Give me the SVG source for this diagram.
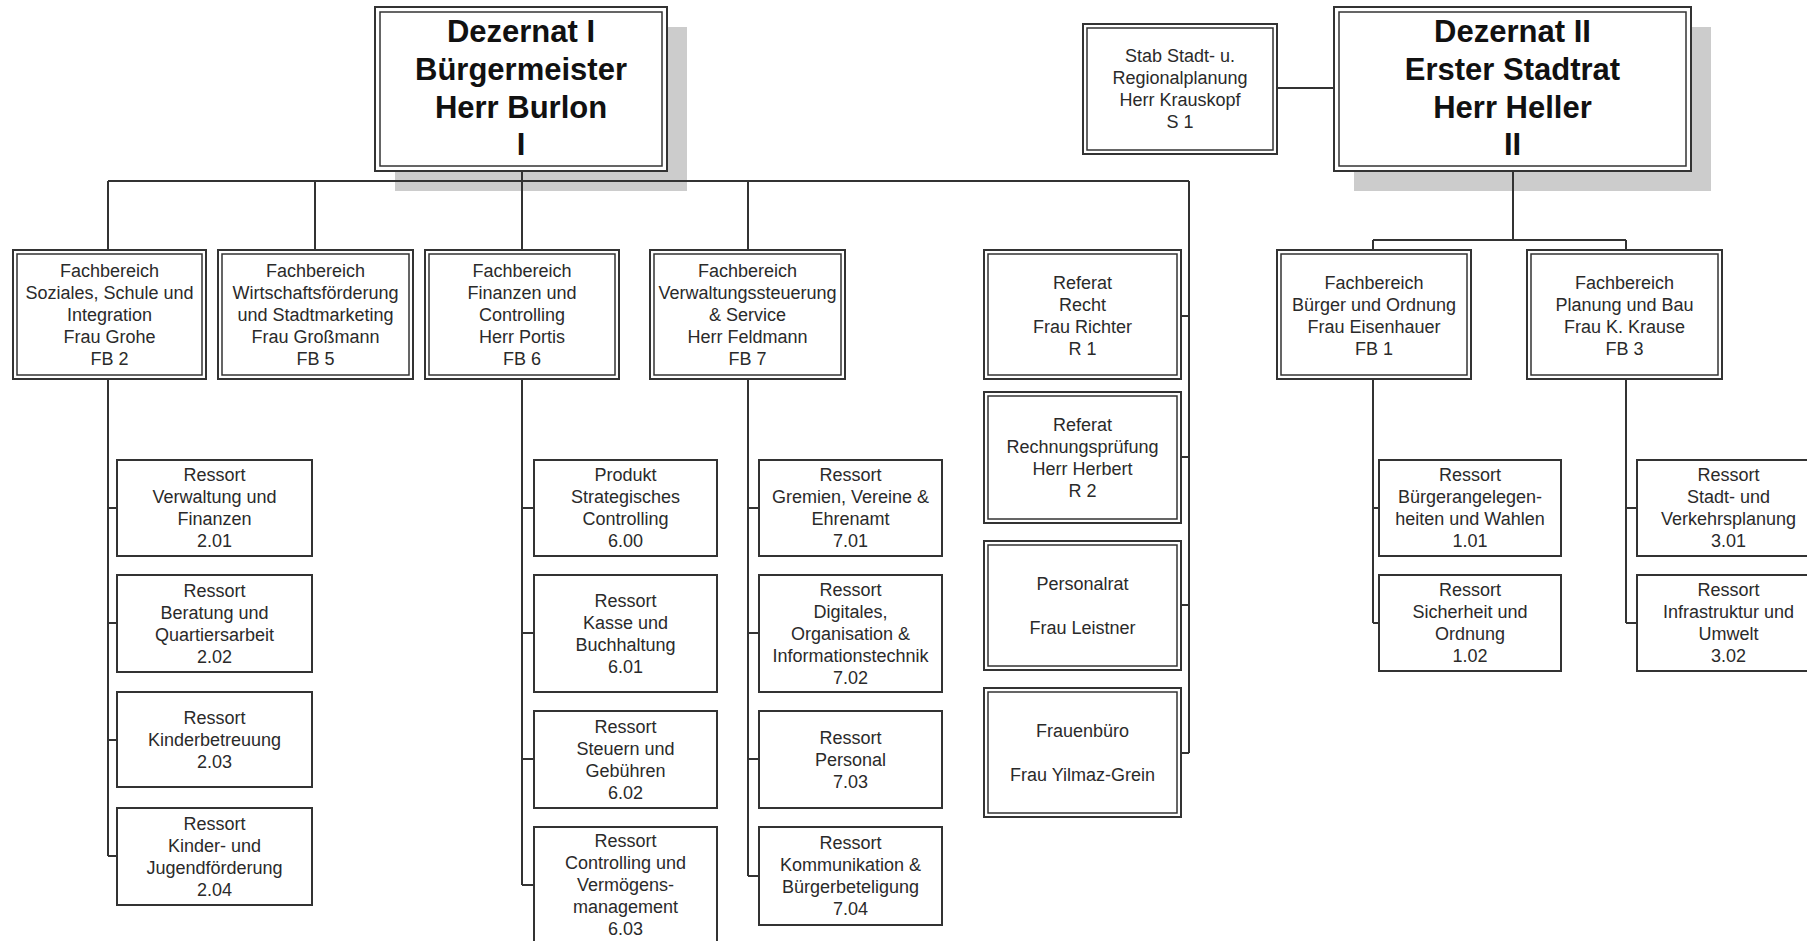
<svg xmlns="http://www.w3.org/2000/svg" width="1807" height="941" viewBox="0 0 1807 941">
<style>
.bg{fill:#ffffff}
.sh{fill:#cccccc}
.o{fill:#ffffff;stroke:#333;stroke-width:2}
.i{fill:none;stroke:#333;stroke-width:1.5}
.s{fill:#ffffff;stroke:#333;stroke-width:2}
.c{fill:none;stroke:#333;stroke-width:2}
.t{font-family:"Liberation Sans",Arial,sans-serif;font-size:18px;fill:#2a2a2a;text-anchor:middle}
.h{font-family:"Liberation Sans",Arial,sans-serif;font-size:31px;font-weight:bold;fill:#111;text-anchor:middle}
</style>
<rect class="bg" x="0" y="0" width="1807" height="941"/>
<g id="shadows">
<rect class="sh" x="395" y="27" width="292" height="164"/>
<rect class="sh" x="1354" y="27" width="357" height="164"/>
</g>
<g id="connectors">
<path class="c" d="M108,181 H1189"/>
<path class="c" d="M108,181 V250 M315,181 V250 M522,171 V250 M748,181 V250"/>
<path class="c" d="M1189,181 V753 M1181,316 H1189 M1181,457 H1189 M1181,605 H1189 M1181,753 H1189"/>
<path class="c" d="M1513,171 V240 M1373,240 H1626 M1373,240 V250 M1626,240 V250"/>
<path class="c" d="M1277,88 H1334"/>
<path class="c" d="M108,379 V856 M108,508 H117 M108,623 H117 M108,740 H117 M108,856 H117"/>
<path class="c" d="M522,379 V885 M522,508 H534 M522,633 H534 M522,759 H534 M522,885 H534"/>
<path class="c" d="M748,379 V876 M748,508 H759 M748,633 H759 M748,759 H759 M748,876 H759"/>
<path class="c" d="M1373,379 V623 M1373,508 H1379 M1373,623 H1379"/>
<path class="c" d="M1626,379 V623 M1626,508 H1637 M1626,623 H1637"/>
</g>
<g id="dez1">
<rect class="o" x="375" y="7" width="292" height="164"/><rect class="i" x="380" y="12" width="282" height="154"/>
<text class="h"><tspan x="521" y="42">Dezernat I</tspan><tspan x="521" y="80">Bürgermeister</tspan><tspan x="521" y="118">Herr Burlon</tspan><tspan x="521" y="155">I</tspan></text>
</g>
<g id="stab">
<rect class="o" x="1083" y="24" width="194" height="130"/><rect class="i" x="1087" y="28" width="186" height="122"/>
<text class="t"><tspan x="1180" y="62">Stab Stadt- u.</tspan><tspan x="1180" y="84">Regionalplanung</tspan><tspan x="1180" y="106">Herr Krauskopf</tspan><tspan x="1180" y="128">S 1</tspan></text>
</g>
<g id="dez2">
<rect class="o" x="1334" y="7" width="357" height="164"/><rect class="i" x="1339" y="12" width="347" height="154"/>
<text class="h"><tspan x="1512.5" y="42">Dezernat II</tspan><tspan x="1512.5" y="80">Erster Stadtrat</tspan><tspan x="1512.5" y="118">Herr Heller</tspan><tspan x="1512.5" y="155">II</tspan></text>
</g>
<g id="fb2">
<rect class="o" x="13" y="250" width="193" height="129"/><rect class="i" x="17" y="254" width="185" height="121"/>
<text class="t"><tspan x="109.5" y="276.5">Fachbereich</tspan><tspan x="109.5" y="298.5">Soziales, Schule und</tspan><tspan x="109.5" y="320.5">Integration</tspan><tspan x="109.5" y="342.5">Frau Grohe</tspan><tspan x="109.5" y="364.5">FB 2</tspan></text>
</g>
<g id="fb5">
<rect class="o" x="218" y="250" width="195" height="129"/><rect class="i" x="222" y="254" width="187" height="121"/>
<text class="t"><tspan x="315.5" y="276.5">Fachbereich</tspan><tspan x="315.5" y="298.5">Wirtschaftsförderung</tspan><tspan x="315.5" y="320.5">und Stadtmarketing</tspan><tspan x="315.5" y="342.5">Frau Großmann</tspan><tspan x="315.5" y="364.5">FB 5</tspan></text>
</g>
<g id="fb6">
<rect class="o" x="425" y="250" width="194" height="129"/><rect class="i" x="429" y="254" width="186" height="121"/>
<text class="t"><tspan x="522" y="276.5">Fachbereich</tspan><tspan x="522" y="298.5">Finanzen und</tspan><tspan x="522" y="320.5">Controlling</tspan><tspan x="522" y="342.5">Herr Portis</tspan><tspan x="522" y="364.5">FB 6</tspan></text>
</g>
<g id="fb7">
<rect class="o" x="650" y="250" width="195" height="129"/><rect class="i" x="654" y="254" width="187" height="121"/>
<text class="t"><tspan x="747.5" y="276.5">Fachbereich</tspan><tspan x="747.5" y="298.5">Verwaltungssteuerung</tspan><tspan x="747.5" y="320.5">&amp; Service</tspan><tspan x="747.5" y="342.5">Herr Feldmann</tspan><tspan x="747.5" y="364.5">FB 7</tspan></text>
</g>
<g id="ref-recht">
<rect class="o" x="984" y="250" width="197" height="129"/><rect class="i" x="988" y="254" width="189" height="121"/>
<text class="t"><tspan x="1082.5" y="288.5">Referat</tspan><tspan x="1082.5" y="310.5">Recht</tspan><tspan x="1082.5" y="332.5">Frau Richter</tspan><tspan x="1082.5" y="354.5">R 1</tspan></text>
</g>
<g id="ref-rp">
<rect class="o" x="984" y="392" width="197" height="131"/><rect class="i" x="988" y="396" width="189" height="123"/>
<text class="t"><tspan x="1082.5" y="430.5">Referat</tspan><tspan x="1082.5" y="452.5">Rechnungsprüfung</tspan><tspan x="1082.5" y="474.5">Herr Herbert</tspan><tspan x="1082.5" y="496.5">R 2</tspan></text>
</g>
<g id="personalrat">
<rect class="o" x="984" y="541" width="197" height="129"/><rect class="i" x="988" y="545" width="189" height="121"/>
<text class="t"><tspan x="1082.5" y="589.5">Personalrat</tspan><tspan x="1082.5" y="633.5">Frau Leistner</tspan></text>
</g>
<g id="frauenbuero">
<rect class="o" x="984" y="688" width="197" height="129"/><rect class="i" x="988" y="692" width="189" height="121"/>
<text class="t"><tspan x="1082.5" y="736.5">Frauenbüro</tspan><tspan x="1082.5" y="780.5">Frau Yilmaz-Grein</tspan></text>
</g>
<g id="fb1">
<rect class="o" x="1277" y="250" width="194" height="129"/><rect class="i" x="1281" y="254" width="186" height="121"/>
<text class="t"><tspan x="1374" y="288.5">Fachbereich</tspan><tspan x="1374" y="310.5">Bürger und Ordnung</tspan><tspan x="1374" y="332.5">Frau Eisenhauer</tspan><tspan x="1374" y="354.5">FB 1</tspan></text>
</g>
<g id="fb3">
<rect class="o" x="1527" y="250" width="195" height="129"/><rect class="i" x="1531" y="254" width="187" height="121"/>
<text class="t"><tspan x="1624.5" y="288.5">Fachbereich</tspan><tspan x="1624.5" y="310.5">Planung und Bau</tspan><tspan x="1624.5" y="332.5">Frau K. Krause</tspan><tspan x="1624.5" y="354.5">FB 3</tspan></text>
</g>
<g id="r201">
<rect class="s" x="117" y="460" width="195" height="96"/>
<text class="t"><tspan x="214.5" y="481">Ressort</tspan><tspan x="214.5" y="503">Verwaltung und</tspan><tspan x="214.5" y="525">Finanzen</tspan><tspan x="214.5" y="547">2.01</tspan></text>
</g>
<g id="r202">
<rect class="s" x="117" y="575" width="195" height="97"/>
<text class="t"><tspan x="214.5" y="596.5">Ressort</tspan><tspan x="214.5" y="618.5">Beratung und</tspan><tspan x="214.5" y="640.5">Quartiersarbeit</tspan><tspan x="214.5" y="662.5">2.02</tspan></text>
</g>
<g id="r203">
<rect class="s" x="117" y="692" width="195" height="95"/>
<text class="t"><tspan x="214.5" y="723.5">Ressort</tspan><tspan x="214.5" y="745.5">Kinderbetreuung</tspan><tspan x="214.5" y="767.5">2.03</tspan></text>
</g>
<g id="r204">
<rect class="s" x="117" y="808" width="195" height="97"/>
<text class="t"><tspan x="214.5" y="829.5">Ressort</tspan><tspan x="214.5" y="851.5">Kinder- und</tspan><tspan x="214.5" y="873.5">Jugendförderung</tspan><tspan x="214.5" y="895.5">2.04</tspan></text>
</g>
<g id="r600">
<rect class="s" x="534" y="460" width="183" height="96"/>
<text class="t"><tspan x="625.5" y="481">Produkt</tspan><tspan x="625.5" y="503">Strategisches</tspan><tspan x="625.5" y="525">Controlling</tspan><tspan x="625.5" y="547">6.00</tspan></text>
</g>
<g id="r601">
<rect class="s" x="534" y="575" width="183" height="117"/>
<text class="t"><tspan x="625.5" y="606.5">Ressort</tspan><tspan x="625.5" y="628.5">Kasse und</tspan><tspan x="625.5" y="650.5">Buchhaltung</tspan><tspan x="625.5" y="672.5">6.01</tspan></text>
</g>
<g id="r602">
<rect class="s" x="534" y="711" width="183" height="97"/>
<text class="t"><tspan x="625.5" y="732.5">Ressort</tspan><tspan x="625.5" y="754.5">Steuern und</tspan><tspan x="625.5" y="776.5">Gebühren</tspan><tspan x="625.5" y="798.5">6.02</tspan></text>
</g>
<g id="r603">
<rect class="s" x="534" y="827" width="183" height="116"/>
<text class="t"><tspan x="625.5" y="847">Ressort</tspan><tspan x="625.5" y="869">Controlling und</tspan><tspan x="625.5" y="891">Vermögens-</tspan><tspan x="625.5" y="913">management</tspan><tspan x="625.5" y="935">6.03</tspan></text>
</g>
<g id="r701">
<rect class="s" x="759" y="460" width="183" height="96"/>
<text class="t"><tspan x="850.5" y="481">Ressort</tspan><tspan x="850.5" y="503">Gremien, Vereine &amp;</tspan><tspan x="850.5" y="525">Ehrenamt</tspan><tspan x="850.5" y="547">7.01</tspan></text>
</g>
<g id="r702">
<rect class="s" x="759" y="575" width="183" height="117"/>
<text class="t"><tspan x="850.5" y="595.5">Ressort</tspan><tspan x="850.5" y="617.5">Digitales,</tspan><tspan x="850.5" y="639.5">Organisation &amp;</tspan><tspan x="850.5" y="661.5">Informationstechnik</tspan><tspan x="850.5" y="683.5">7.02</tspan></text>
</g>
<g id="r703">
<rect class="s" x="759" y="711" width="183" height="97"/>
<text class="t"><tspan x="850.5" y="743.5">Ressort</tspan><tspan x="850.5" y="765.5">Personal</tspan><tspan x="850.5" y="787.5">7.03</tspan></text>
</g>
<g id="r704">
<rect class="s" x="759" y="827" width="183" height="98"/>
<text class="t"><tspan x="850.5" y="849">Ressort</tspan><tspan x="850.5" y="871">Kommunikation &amp;</tspan><tspan x="850.5" y="893">Bürgerbeteligung</tspan><tspan x="850.5" y="915">7.04</tspan></text>
</g>
<g id="r101">
<rect class="s" x="1379" y="460" width="182" height="96"/>
<text class="t"><tspan x="1470" y="481">Ressort</tspan><tspan x="1470" y="503">Bürgerangelegen-</tspan><tspan x="1470" y="525">heiten und Wahlen</tspan><tspan x="1470" y="547">1.01</tspan></text>
</g>
<g id="r102">
<rect class="s" x="1379" y="575" width="182" height="96"/>
<text class="t"><tspan x="1470" y="596">Ressort</tspan><tspan x="1470" y="618">Sicherheit und</tspan><tspan x="1470" y="640">Ordnung</tspan><tspan x="1470" y="662">1.02</tspan></text>
</g>
<g id="r301">
<rect class="s" x="1637" y="460" width="183" height="96"/>
<text class="t"><tspan x="1728.5" y="481">Ressort</tspan><tspan x="1728.5" y="503">Stadt- und</tspan><tspan x="1728.5" y="525">Verkehrsplanung</tspan><tspan x="1728.5" y="547">3.01</tspan></text>
</g>
<g id="r302">
<rect class="s" x="1637" y="575" width="183" height="96"/>
<text class="t"><tspan x="1728.5" y="596">Ressort</tspan><tspan x="1728.5" y="618">Infrastruktur und</tspan><tspan x="1728.5" y="640">Umwelt</tspan><tspan x="1728.5" y="662">3.02</tspan></text>
</g>
</svg>
